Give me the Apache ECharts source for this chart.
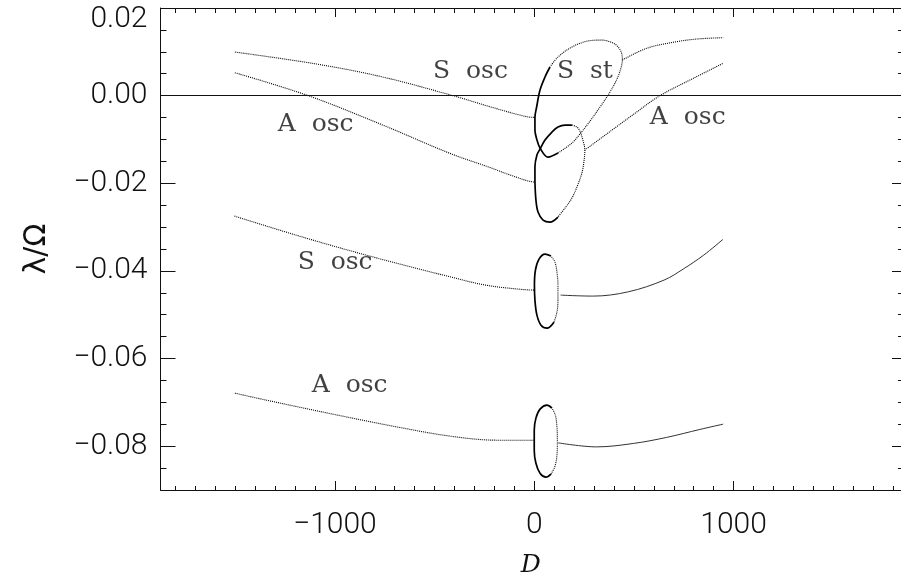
<!DOCTYPE html>
<html><head><meta charset="utf-8">
<script src="https://cdn.jsdelivr.net/npm/echarts@6/dist/echarts.min.js"></script>
<style>html,body{margin:0;padding:0;background:#fff}#c{width:901px;height:574px}</style>
</head><body><div id="c"></div>
<script>
// ---- axis ranges and ticks ----
const xRange = [-1875, 1840];
const yRange = [-0.09, 0.02];
const xMajorTicks = [-1000, 0, 1000];
const yMajorTicks = [-0.08, -0.06, -0.04, -0.02, 0.00, 0.02];
const xMinorTicks = []; for (let v = -1800; v <= 1800; v += 100) xMinorTicks.push(v);
const yMinorTicks = []; for (let k = -17; k <= 4; k++) yMinorTicks.push(+(k * 0.005).toFixed(3));

// ---- data (D, lambda/Omega) ----
const sOscTopLeft = [[-1502,0.00995],[-1091,0.00721],[-760,0.00425],[-408,0],[-222,-0.00253],[-72,-0.00443],[-7,-0.00495],[3.5,-0.00495]];
const aOscTopLeft = [[-1502,0.00523],[-1134,0],[-760,-0.00671],[-423,-0.01317],[-222,-0.0164],[-122,-0.0181],[-7,-0.0197],[3.5,-0.01973]];
const loopSThick = [[79,0.00653],[54,0.00425],[29,0.00128],[12,-0.0026],[3.5,-0.00495],[3.5,-0.00785],[13.5,-0.0101],[29,-0.01196],[69,-0.01402],[119,-0.0131]];
const loopSDotted = [[119,-0.0131],[189,-0.01082],[229,-0.00877],[280,-0.0058],[330,-0.0026],[380,0.00082],[415,0.00379],[435,0.0063],[442,0.00813],[438,0.00973],[421,0.0111],[395,0.01201],[340,0.01268],[269,0.01247],[189,0.0111],[119,0.00881],[79,0.00653]];
const loopAThickUpper = [[3.5,-0.01973],[3.5,-0.0163],[13.5,-0.01356],[29,-0.01219],[54,-0.01014],[89,-0.00831],[119,-0.00717],[154,-0.00671],[189,-0.00671]];
const loopADotted = [[189,-0.00671],[214,-0.00717],[229,-0.00808],[244,-0.01014],[254,-0.01242],[249,-0.01516],[239,-0.01767],[214,-0.02087],[189,-0.02338],[154,-0.02566],[119,-0.02771]];
const loopAThickLower = [[119,-0.02771],[79,-0.02886],[44,-0.0284],[19,-0.02657],[8.5,-0.02383],[3.5,-0.01973]];
const aOscTopRight = [[254,-0.01242],[505,-0.00404],[631,0],[798,0.00395],[948,0.00737]];
const sStTopRight = [[442,0.00813],[564,0.0108],[697,0.01217],[815,0.01292],[948,0.01322]];

const sOscMidLeft = [[-1504,-0.02749],[-1140,-0.03258],[-782,-0.03715],[-423,-0.04134],[-244,-0.04324],[-65,-0.04422],[1,-0.04438]];
const sOscMidLoopThick = [[84,-0.03662],[54,-0.03616],[24,-0.03731],[6,-0.03982],[1,-0.04324],[3.5,-0.04666],[13.5,-0.0501],[34,-0.05238],[64,-0.05306],[99,-0.05169]];
const sOscMidLoopDotted = [[99,-0.05169],[114,-0.0494],[119,-0.04666],[119,-0.04324],[114,-0.04027],[104,-0.03799],[84,-0.03662]];
const sOscMidRight = [[132,-0.04552],[293,-0.04575],[472,-0.04477],[651,-0.0421],[750,-0.0395],[850,-0.0364],[947,-0.0328]];

const aOscLowLeft = [[-1502,-0.0679],[-1343,-0.0695],[-1009,-0.0727],[-674,-0.07573],[-423,-0.0777],[-189,-0.07863],[0,-0.07863]];
const aOscLowLoopThick = [[89,-0.07132],[64,-0.07063],[29,-0.07155],[8.5,-0.0736],[0,-0.07634],[0,-0.08091],[8.5,-0.08388],[29,-0.08616],[59,-0.08707],[84,-0.08639]];
const aOscLowLoopDotted = [[84,-0.08639],[104,-0.08456],[114,-0.08205],[116,-0.07863],[114,-0.07566],[106,-0.07292],[89,-0.07132]];
const aOscLowRight = [[120,-0.07924],[313,-0.08016],[497,-0.07938],[664,-0.078],[831,-0.07618],[948,-0.07497]];

// ---- curve labels: [text, D, lambda] (left edge, vertical middle) ----
const curveLabels = [
  ['S  osc', -508, 0.0055],
  ['S  st', 114, 0.0056],
  ['A  osc', -1287, -0.0067],
  ['A  osc', 580, -0.0051],
  ['S  osc', -1187, -0.0381],
  ['A  osc', -1116, -0.0661]
];

const INK = '#111';
const tickFont = { fontFamily: 'Roboto', fontWeight: 300, fontSize: 30, color: INK };
function fmtY(v) {
  const s = Math.abs(v).toFixed(2);
  return (v < -1e-9 ? '\u2212' : '') + s;
}
function fmtX(v) { return v < 0 ? '\u2212' + Math.abs(v) : String(v); }

function xAxisDef(pos, ticks, len, labels, line) {
  return {
    type: 'value', position: pos, min: xRange[0], max: xRange[1],
    axisLine: { show: line, onZero: false, lineStyle: { color: INK, width: 1 } },
    axisTick: { show: true, inside: true, length: len, customValues: ticks, lineStyle: { color: INK, width: 1 } },
    axisLabel: labels ? Object.assign({ show: true, customValues: xMajorTicks, margin: 20, formatter: fmtX }, tickFont) : { show: false },
    splitLine: { show: false },
    name: (labels ? 'D' : ''), nameLocation: 'middle', nameGap: 63,
    nameTextStyle: { fontFamily: 'DejaVu Serif', fontStyle: 'italic', fontSize: 25, color: INK }
  };
}
function yAxisDef(pos, ticks, len, labels, line) {
  return {
    type: 'value', position: pos, min: yRange[0], max: yRange[1],
    axisLine: { show: line, onZero: false, lineStyle: { color: INK, width: 1 } },
    axisTick: { show: true, inside: true, length: len, customValues: ticks, lineStyle: { color: INK, width: 1 } },
    axisLabel: labels ? Object.assign({
      show: true, customValues: yMajorTicks, margin: 13,
      formatter: function (v) { return Math.abs(v - yRange[1]) < 1e-9 ? '{t|' + fmtY(v) + '}' : fmtY(v); },
      rich: { t: { fontFamily: 'Roboto', fontWeight: 300, fontSize: 30, color: INK, padding: [22, 0, 0, 0] } }
    }, tickFont) : { show: false },
    splitLine: { show: false },
    name: (labels ? '\u03bb/\u03a9' : ''), nameLocation: 'middle', nameGap: 108, nameRotate: 90,
    nameTextStyle: { fontFamily: 'DejaVu Sans', fontSize: 30, color: INK }
  };
}

function line(data, kind) {
  const st = {
    thick: { type: 'solid', width: 1.7, color: '#000' },
    dotted: { type: [1, 1], width: 1.1, color: '#000' },
    thin: { type: 'solid', width: 1, color: '#333' }
  }[kind];
  return { type: 'line', data: data, showSymbol: false, symbol: 'none', smooth: 0.35, lineStyle: st, silent: true, animation: false, clip: true, z: 3 };
}

const chart = echarts.init(document.getElementById('c'), null, { renderer: 'canvas' });
const series = [
  line(sOscTopLeft, 'dotted'), line(aOscTopLeft, 'dotted'),
  line(loopSThick, 'thick'), line(loopSDotted, 'dotted'),
  line(loopAThickUpper, 'thick'), line(loopADotted, 'dotted'), line(loopAThickLower, 'thick'),
  line(aOscTopRight, 'dotted'), line(sStTopRight, 'dotted'),
  line(sOscMidLeft, 'dotted'), line(sOscMidLoopThick, 'thick'), line(sOscMidLoopDotted, 'dotted'), line(sOscMidRight, 'thin'),
  line(aOscLowLeft, 'dotted'), line(aOscLowLoopThick, 'thick'), line(aOscLowLoopDotted, 'dotted'), line(aOscLowRight, 'thin')
];
series[0].markLine = { silent: true, symbol: 'none', label: { show: false }, animation: false,
  lineStyle: { type: 'solid', width: 1, color: INK }, data: [{ yAxis: 0 }] };
series.push({
  type: 'scatter', data: curveLabels.map(l => ({ value: [l[1], l[2]], name: l[0] })),
  symbolSize: 0, silent: true, animation: false,
  label: { show: true, position: 'right', distance: 0, formatter: p => p.name,
    fontFamily: 'DejaVu Serif', fontSize: 25, color: INK }
});

chart.setOption({
  animation: false,
  backgroundColor: '#fff',
  grid: { left: 160.5, right: 0, top: 8, bottom: 84, containLabel: false, outerBoundsMode: 'none' },
  xAxis: [
    xAxisDef('bottom', xMajorTicks, 9, true, true),
    xAxisDef('bottom', xMinorTicks, 4, false, false),
    xAxisDef('top', xMajorTicks, 9, false, true),
    xAxisDef('top', xMinorTicks, 5, false, false)
  ],
  yAxis: [
    yAxisDef('left', yMajorTicks, 15, true, true),
    yAxisDef('left', yMinorTicks, 6, false, false),
    yAxisDef('right', yMajorTicks, 9, false, true),
    yAxisDef('right', yMinorTicks, 3, false, false)
  ],
  series: series
});
</script></body></html>
